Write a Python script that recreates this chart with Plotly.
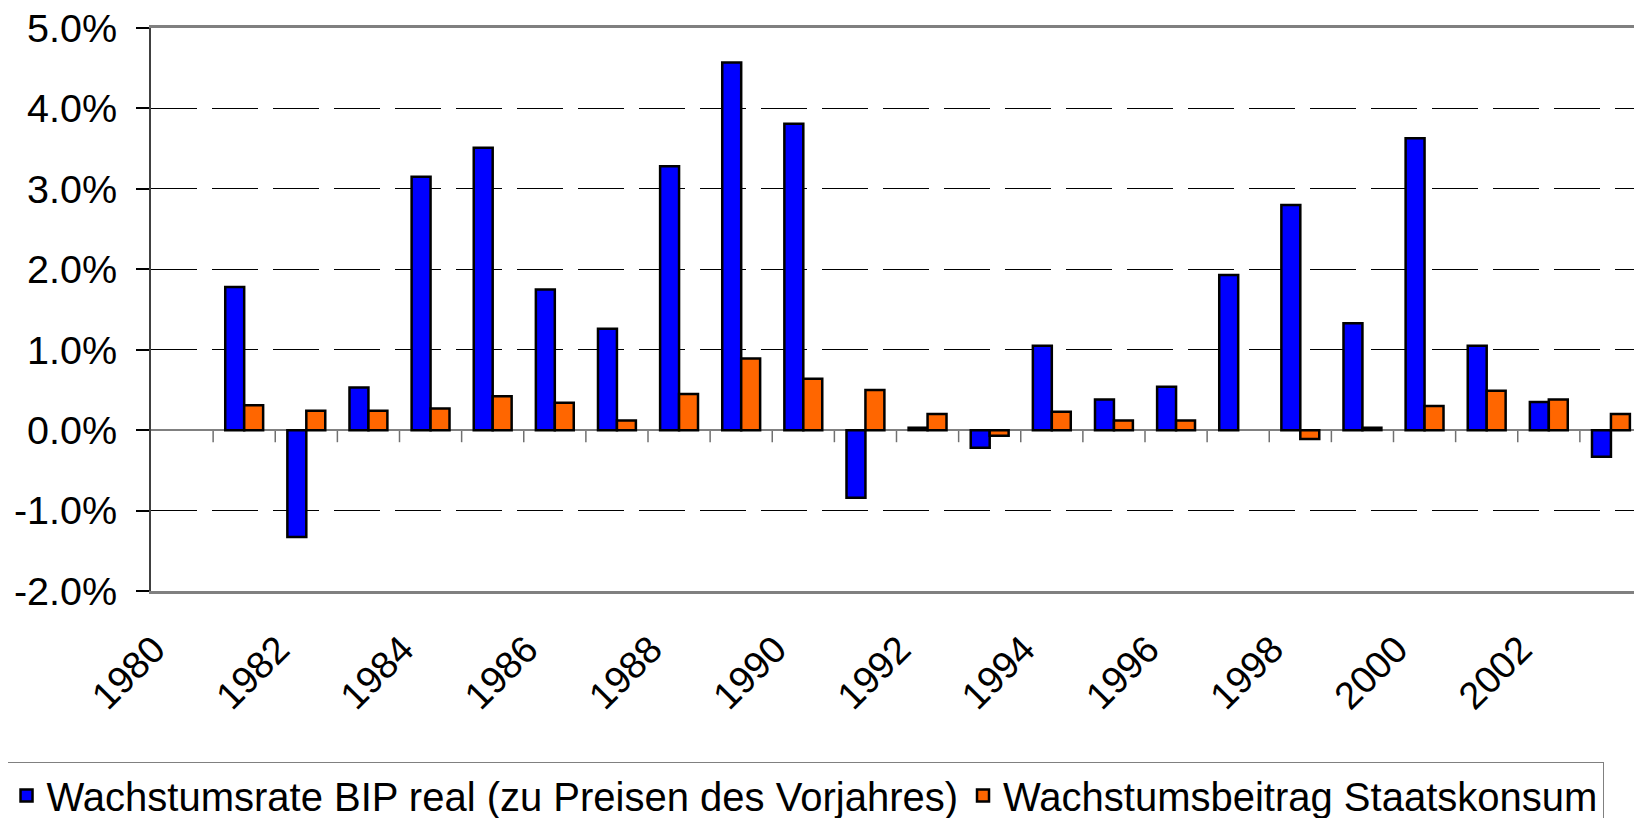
import plotly.graph_objects as go

# ---- data (percent) ----
years = list(range(1981, 2004))
bip_real = [1.78, -1.33, 0.53, 3.15, 3.51, 1.75, 1.26, 3.28, 4.57, 3.81, -0.84, 0.03,
            -0.22, 1.05, 0.38, 0.54, 1.93, 2.80, 1.33, 3.63, 1.05, 0.35, -0.33]
staatskonsum = [0.31, 0.24, 0.24, 0.27, 0.42, 0.34, 0.12, 0.45, 0.89, 0.64, 0.50, 0.20,
                -0.07, 0.23, 0.12, 0.12, None, -0.11, 0.03, 0.30, 0.49, 0.38, 0.20]
tick_years = list(range(1980, 2003, 2))
tick_labels = [str(y) for y in tick_years]
y_ticks = [-2, -1, 0, 1, 2, 3, 4, 5]
y_tick_labels = [("%.1f%%" % v) for v in y_ticks]
series_names = ["Wachstumsrate BIP real (zu Preisen des Vorjahres)",
                "Wachstumsbeitrag Staatskonsum"]

FONT = "Liberation Sans, Arial, sans-serif"

fig = go.Figure()
fig.add_trace(go.Bar(x=years, y=bip_real, name=series_names[0],
                     marker=dict(color="#0000FF", line=dict(color="black", width=2.5))))
fig.add_trace(go.Bar(x=years, y=staatskonsum, name=series_names[1],
                     marker=dict(color="#FF6600", line=dict(color="black", width=2.5))))

# category boundary tick marks on the zero line
x_min = years[0] - 1.5
x_max = years[-1] + 0.5
boundaries = [y + 0.5 for y in range(years[0] - 1, years[-1])]
for b in boundaries:
    fig.add_shape(type="line", xref="x", yref="y", x0=b, x1=b, y0=0, y1=-0.15,
                  line=dict(color="#707070", width=1.5), layer="below")

fig.update_layout(
    width=1634, height=810,
    margin=dict(l=143, r=0, t=20, b=227, autoexpand=False),
    paper_bgcolor="white", plot_bgcolor="white",
    font=dict(family=FONT, size=38, color="black"),
    barmode="group", bargap=0.39, bargroupgap=0,
    showlegend=True,
    legend=dict(orientation="h", x=-0.0979, xanchor="left", y=-0.303, yanchor="top",
                bordercolor="#808080", borderwidth=1.5, bgcolor="white",
                font=dict(family=FONT, size=40, color="black"),
                traceorder="normal", itemwidth=30),
    xaxis=dict(range=[x_min, x_max], tickmode="array", tickvals=tick_years,
               ticktext=tick_labels, tickangle=-45, ticks="",
               ticklabelshift=-28, ticklabelstandoff=18,
               showgrid=False, zeroline=False,
               showline=True, linecolor="#808080", linewidth=2.5, mirror=True,
               tickfont=dict(family=FONT, size=38)),
    yaxis=dict(range=[-2, 5], tickmode="array", tickvals=y_ticks, ticktext=y_tick_labels,
               ticks="outside", ticklen=13, tickcolor="black", tickwidth=1.5,
               ticklabelstandoff=11, ticklabeloverflow="allow",
               showline=True, linecolor="#404040", linewidth=2,
               showgrid=True, gridcolor="black", gridwidth=1, griddash="46px,15px",
               zeroline=True, zerolinecolor="#808080", zerolinewidth=1.5,
               tickfont=dict(family=FONT, size=39.5)),
)

fig.write_html("out.html")
